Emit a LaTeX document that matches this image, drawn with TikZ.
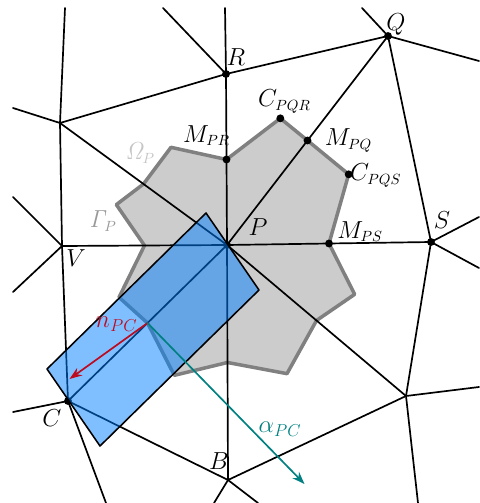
\documentclass[tikz,border=0pt]{standalone}
\usepackage{fix-cm}
\usetikzlibrary{calc,arrows.meta}
\definecolor{cellgray}{RGB}{204,204,204}
\definecolor{edgegray}{RGB}{128,128,128}
\definecolor{fluxblue}{RGB}{0,128,255}
\definecolor{nred}{RGB}{190,10,30}
\definecolor{ateal}{RGB}{0,128,128}
\newcommand\ix[1]{_{\hbox{\fontsize{10.5}{12}\selectfont$#1$}}}
\tikzset{
  mesh/.style={line width=1.2pt},
  cell/.style={fill=cellgray, draw=edgegray, line width=2.5pt},
  flux/.style={fill=fluxblue, fill opacity=.5, draw=black, line width=1.1pt},
  vec/.style={->, line width=1.2pt},
  lbl/.style={inner sep=0pt}
}
\begin{document}
\begin{tikzpicture}[x=.025cm, y=-.025cm, line join=round, line cap=round,
  font={\fontsize{17.5}{21}\selectfont}, >={Stealth[length=9pt,width=6.5pt,inset=3pt]}]
\useasboundingbox (0,0) rectangle (479,503);
% mesh vertices (px)
\foreach \n/\x/\y in {P/227/245, R/226/74, Q/388/36, S/431/242, V/62/246,
  C/68/401, B/228/480, T/60/123, D/406/396}
  \coordinate (\n) at (\x,\y);
% free ends at the border
\foreach \n/\x/\y in {R1/225/8, R2/163/8, Q1/362/8, Q2/479/61, S1/479/217,
  S2/479/268, D1/479/387, D2/418/503, B1/214/503, B2/258/503, C1/106/503,
  C2/13/412, V1/13/197, V2/13/292, T1/13/108, T2/65/8}
  \coordinate (\n) at (\x,\y);
% median dual cell of P
\foreach \a in {R,Q,S,D,B,C,V,T} \coordinate (m\a) at ($(P)!.5!(\a)$);
\foreach \a/\b in {R/Q,Q/S,S/D,D/B,B/C,C/V,V/T,T/R}
  \coordinate (c\a\b) at (barycentric cs:P=1,\a=1,\b=1);
\filldraw[cell] (mR)--(cRQ)--(mQ)--(cQS)--(mS)--(cSD)--(mD)--(cDB)--(mB)
  --(cBC)--(mC)--(cCV)--(mV)--(cVT)--(mT)--(cTR)--cycle;
% mesh
\foreach \a in {R,Q,S,D,B,C,V,T} \draw[mesh] (P)--(\a);
\draw[mesh] (T)--(R)--(Q)--(S)--(D)--(B)--(C)--(V)--(T);
\foreach \a/\b in {R/R1,R/R2,Q/Q1,Q/Q2,S/S1,S/S2,D/D1,D/D2,B/B1,B/B2,
  C/C1,C/C2,V/V1,V/V2,T/T1,T/T2} \draw[mesh] (\a)--(\b);
\foreach \p in {P,Q,R,S,C,cRQ,mR,mQ,cQS,mS} \fill (\p) circle (2.8pt);
% flux tube along PC
\draw[flux] ($(P)+(-21,-32)$)--($(P)+(32,45)$)--($(C)+(32,45)$)--($(C)+(-21,-32)$)--cycle;
\coordinate (nEnd) at ($(mC)+(-78,56)$);
\coordinate (aEnd) at ($(mC)+(157,161)$);
\draw[vec, nred] (mC)--(nEnd);
\draw[vec, ateal] (mC)--(aEnd);
% labels
\node[lbl] (lQ) at ($(Q)+(8,-12)$) {$Q$};
\node[lbl] (lR) at ($(R)+(10,-17)$) {$R$};
\node[lbl] (lS) at ($(S)+(11,-22)$) {$S$};
\node[lbl] (lP) at ($(P)+(31,-18)$) {$P$};
\node[lbl] (lV) at ($(V)+(14,12)$) {$V$};
\node[lbl] (lC) at ($(C)+(-16,17)$) {$C$};
\node[lbl] (lB) at ($(B)+(-9,-19)$) {$B$};
\node[lbl] (lcPQR) at ($(cRQ)+(4,-17)$) {$C\ix{PQR}$};
\node[lbl] (lmPR) at ($(mR)+(-20,-24)$) {$M\ix{PR}$};
\node[lbl] (lmPQ) at ($(mQ)+(41,0)$) {$M\ix{PQ}$};
\node[lbl] (lcPQS) at ($(cQS)+(27,1)$) {$C\ix{PQS}$};
\node[lbl] (lmPS) at ($(mS)+(31,-12)$) {$M\ix{PS}$};
\node[lbl, gray!45] (lOmega) at (140,153) {$\mathit{\Omega}\ix{P}$};
\node[lbl, gray!80] (lGamma) at (103,221) {$\mathit{\Gamma}\ix{P}$};
\node[lbl, nred] (ln) at ($(mC)+(-31,1)$) {$n_{PC}$};
\node[lbl, ateal] (la) at (280,429) {$\alpha_{PC}$};
\end{tikzpicture}
\end{document}
